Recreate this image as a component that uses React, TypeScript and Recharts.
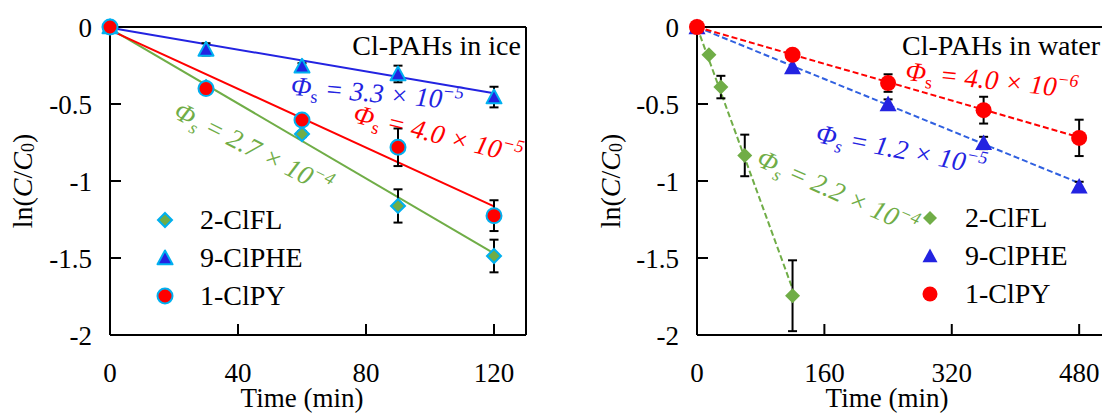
import {
  ComposedChart,
  Line,
  Scatter,
  XAxis,
  YAxis,
  ErrorBar,
  ReferenceDot,
  ReferenceLine,
  Legend,
} from "recharts";

const FONT = '"Liberation Serif", "Times New Roman", serif';
const GREEN = "#70ad47";
const BLUE = "#2323e1";
const RED = "#ff0000";
const CYAN = "#00b0f0";

// ---- Cl-PAHs in ice (min, ln(C/C0))
const iceTime = [0, 30, 60, 90, 120];
const iceClFL = [0, -0.39, -0.695, -1.162, -1.487];
const iceClFLErr = [0, 0.02, 0.02, 0.108, 0.106];
const iceClPHE = [0, -0.145, -0.255, -0.305, -0.455];
const iceClPHEErr = [0, 0.04, 0.02, 0.054, 0.067];
const iceClPY = [0, -0.4, -0.604, -0.781, -1.225];
const iceClPYErr = [0, 0.02, 0.02, 0.122, 0.1];
const iceFitTime = [0, 120];
const iceFitClFL = [-0.01, -1.47];
const iceFitClPHE = [-0.005, -0.43];
const iceFitClPY = [-0.02, -1.165];

// ---- Cl-PAHs in water
const waterTimeClFL = [0, 15, 30, 60, 120];
const waterClFL = [0, -0.18, -0.39, -0.834, -1.745];
const waterClFLErr = [0, 0, 0.073, 0.135, 0.23];
const waterTime = [0, 120, 240, 360, 480];
const waterClPHE = [0, -0.26, -0.5, -0.753, -1.035];
const waterClPHEErr = [0, 0, 0.03, 0.04, 0.03];
const waterClPY = [0, -0.18, -0.364, -0.54, -0.72];
const waterClPYErr = [0, 0, 0.057, 0.087, 0.118];
const waterFitClFLTime = [0, 120];
const waterFitClFL = [0, -1.7];
const waterFitTime = [0, 480];
const waterFitClPHE = [0, -1.013];
const waterFitClPY = [0, -0.716];

const yTicks = [0, -0.5, -1, -1.5, -2];
const iceTicks = [0, 40, 80, 120];
const waterTicks = [0, 160, 320, 480];
const seriesNames = ["2-ClFL", "9-ClPHE", "1-ClPY"];

const pts = (xs: number[], ys: number[], es?: number[]) =>
  xs.map((x, i) => ({ x, y: ys[i], err: es ? es[i] : 0 }));

// marker shapes
const diamond = (fill: string, stroke: string | null, r: number) => (p: any) =>
  (
    <polygon
      points={`${p.cx},${p.cy - r} ${p.cx + r},${p.cy} ${p.cx},${p.cy + r} ${p.cx - r},${p.cy}`}
      fill={fill}
      stroke={stroke ?? "none"}
      strokeWidth={2}
    />
  );
const triangle = (fill: string, stroke: string | null, w: number) => (p: any) =>
  (
    <polygon
      points={`${p.cx},${p.cy - w * 0.5} ${p.cx + w / 2},${p.cy + w * 0.42} ${p.cx - w / 2},${p.cy + w * 0.42}`}
      fill={fill}
      stroke={stroke ?? "none"}
      strokeWidth={2}
      strokeLinejoin="round"
    />
  );
const circle = (fill: string, stroke: string | null, r: number) => (p: any) =>
  <circle cx={p.cx} cy={p.cy} r={r} fill={fill} stroke={stroke ?? "none"} strokeWidth={2} />;

// rotated "Φs = a × 10^-b" annotation
const phi =
  (color: string, mant: string, exp: string, angle: number, italicS = true) =>
  (p: any) =>
    (
      <text
        x={p.cx}
        y={p.cy}
        transform={`rotate(${angle} ${p.cx} ${p.cy})`}
        fill={color}
        fontFamily={FONT}
        fontSize={27}
        fontStyle="italic"
      >
        Φ
        <tspan fontSize={18} dy={6} fontStyle={italicS ? "italic" : "normal"}>
          s
        </tspan>
        <tspan dy={-6}>{` = ${mant} × 10`}</tspan>
        <tspan fontSize={18} dy={-11}>
          {`−${exp}`}
        </tspan>
      </text>
    );

const title = (txt: string, anchor: "start" | "end") => (p: any) =>
  (
    <text x={p.cx} y={p.cy} textAnchor={anchor} fontFamily={FONT} fontSize={28} fill="#000">
      {txt}
    </text>
  );

const yLabel = (cx: number) => () =>
  (
    <text
      x={cx}
      y={181}
      transform={`rotate(-90 ${cx} 181)`}
      textAnchor="middle"
      dominantBaseline="central"
      fontFamily={FONT}
      fontSize={28}
      fill="#000"
    >
      ln(<tspan fontStyle="italic">C</tspan>/<tspan fontStyle="italic">C</tspan>
      <tspan fontSize={18} dy={6}>
        0
      </tspan>
      <tspan dy={-6}>)</tspan>
    </text>
  );

const xLabel = (cx: number) => () =>
  (
    <text x={cx} y={407} textAnchor="middle" fontFamily={FONT} fontSize={27} fill="#000">
      Time (min)
    </text>
  );

const legendBox = (stroke: string | null, textX: number) => () =>
  (
    <svg width={180} height={120}>
      {diamond(GREEN, stroke, 7)({ cx: 15, cy: 20 })}
      {triangle(BLUE, stroke, 15)({ cx: 15, cy: 58 })}
      {circle(RED, stroke, 7.5)({ cx: 15, cy: 96 })}
      {seriesNames.map((n, i) => (
        <text key={n} x={textX} y={29 + i * 38} fontFamily={FONT} fontSize={28} fill="#000">
          {n}
        </text>
      ))}
    </svg>
  );

const tickStyle = { fill: "#000", fontSize: 27, fontFamily: FONT };
const axisLine = { stroke: "#000", strokeWidth: 2 };
const tickLine = { stroke: "#000", strokeWidth: 2 };
const errProps = { direction: "y" as const, width: 4.5, stroke: "#000", strokeWidth: 2 };

const Frame = (xMax: number) => [
  <ReferenceLine key="top" y={0} stroke="#000" strokeWidth={2} ifOverflow="visible" />,
  <ReferenceLine key="right" x={xMax} stroke="#000" strokeWidth={2} ifOverflow="visible" />,
];

const IceChart = () => (
  <ComposedChart width={540} height={414} margin={{ top: 27, right: 14, bottom: 0, left: 0 }}>
    <XAxis
      dataKey="x"
      type="number"
      domain={[0, 130]}
      ticks={iceTicks}
      height={79}
      tickSize={-11}
      tickMargin={39}
      tick={tickStyle}
      axisLine={axisLine}
      tickLine={tickLine}
      label={{ content: xLabel(302) }}
    />
    <YAxis
      type="number"
      domain={[-2, 0]}
      ticks={yTicks}
      width={110}
      tickSize={-11}
      tickMargin={29}
      tick={tickStyle}
      tickFormatter={(v: number) => String(v)}
      axisLine={axisLine}
      tickLine={tickLine}
      label={{ content: yLabel(22) }}
    />
    {Frame(130)}
    <Line data={pts(iceFitTime, iceFitClFL)} dataKey="y" stroke={GREEN} strokeWidth={2} dot={false} legendType="none" isAnimationActive={false} />
    <Line data={pts(iceFitTime, iceFitClPHE)} dataKey="y" stroke={BLUE} strokeWidth={2} dot={false} legendType="none" isAnimationActive={false} />
    <Line data={pts(iceFitTime, iceFitClPY)} dataKey="y" stroke={RED} strokeWidth={2} dot={false} legendType="none" isAnimationActive={false} />
    <Scatter name={seriesNames[0]} data={pts(iceTime, iceClFL, iceClFLErr)} dataKey="y" shape={diamond(GREEN, CYAN, 7)} isAnimationActive={false}>
      <ErrorBar dataKey="err" {...errProps} />
    </Scatter>
    <Scatter name={seriesNames[1]} data={pts(iceTime, iceClPHE, iceClPHEErr)} dataKey="y" shape={triangle(BLUE, CYAN, 15)} isAnimationActive={false}>
      <ErrorBar dataKey="err" {...errProps} />
    </Scatter>
    <Scatter name={seriesNames[2]} data={pts(iceTime, iceClPY, iceClPYErr)} dataKey="y" shape={circle(RED, CYAN, 7.5)} isAnimationActive={false}>
      <ErrorBar dataKey="err" {...errProps} />
    </Scatter>
    <ReferenceDot x={128.4} y={-0.182} r={0} ifOverflow="visible" shape={title("Cl-PAHs in ice", "end")} />
    <ReferenceDot x={56.3} y={-0.44} r={0} ifOverflow="visible" shape={phi(BLUE, "3.3", "5", 5, false)} />
    <ReferenceDot x={75.6} y={-0.617} r={0} ifOverflow="visible" shape={phi(RED, "4.0", "5", 14, false)} />
    <ReferenceDot x={19.4} y={-0.584} r={0} ifOverflow="visible" shape={phi(GREEN, "2.7", "4", 27)} />
    <Legend
      layout="vertical"
      align="center"
      verticalAlign="middle"
      wrapperStyle={{ position: "absolute", left: 150, top: 200, width: 180, height: 120 }}
      content={legendBox(CYAN, 50)}
    />
  </ComposedChart>
);

const WaterChart = () => (
  <ComposedChart width={560} height={414} margin={{ top: 27, right: 9, bottom: 0, left: 0 }}>
    <XAxis
      dataKey="x"
      type="number"
      domain={[0, 520]}
      ticks={waterTicks}
      height={79}
      tickSize={-11}
      tickMargin={39}
      tick={tickStyle}
      axisLine={axisLine}
      tickLine={tickLine}
      label={{ content: xLabel(327) }}
    />
    <YAxis
      type="number"
      domain={[-2, 0]}
      ticks={yTicks}
      width={137}
      tickSize={-11}
      tickMargin={29}
      tick={tickStyle}
      tickFormatter={(v: number) => String(v)}
      axisLine={axisLine}
      tickLine={tickLine}
      label={{ content: yLabel(50) }}
    />
    {Frame(520)}
    <Line data={pts(waterFitClFLTime, waterFitClFL)} dataKey="y" stroke={GREEN} strokeWidth={2} strokeDasharray="6 3" dot={false} legendType="none" isAnimationActive={false} />
    <Line data={pts(waterFitTime, waterFitClPHE)} dataKey="y" stroke="#3060e0" strokeWidth={2} strokeDasharray="6 3" dot={false} legendType="none" isAnimationActive={false} />
    <Line data={pts(waterFitTime, waterFitClPY)} dataKey="y" stroke={RED} strokeWidth={2} strokeDasharray="6 3" dot={false} legendType="none" isAnimationActive={false} />
    <Scatter name={seriesNames[0]} data={pts(waterTimeClFL, waterClFL, waterClFLErr)} dataKey="y" shape={diamond(GREEN, null, 7.5)} isAnimationActive={false}>
      <ErrorBar dataKey="err" {...errProps} />
    </Scatter>
    <Scatter name={seriesNames[1]} data={pts(waterTime, waterClPHE, waterClPHEErr)} dataKey="y" shape={triangle(BLUE, null, 17)} isAnimationActive={false}>
      <ErrorBar dataKey="err" {...errProps} />
    </Scatter>
    <Scatter name={seriesNames[2]} data={pts(waterTime, waterClPY, waterClPYErr)} dataKey="y" shape={circle(RED, null, 8)} isAnimationActive={false}>
      <ErrorBar dataKey="err" {...errProps} />
    </Scatter>
    <ReferenceDot x={257.5} y={-0.18} r={0} ifOverflow="visible" shape={title("Cl-PAHs in water", "start")} />
    <ReferenceDot x={261} y={-0.344} r={0} ifOverflow="visible" shape={phi(RED, "4.0", "6", 6, false)} />
    <ReferenceDot x={148} y={-0.747} r={0} ifOverflow="visible" shape={phi(BLUE, "1.2", "5", 11)} />
    <ReferenceDot x={73} y={-0.896} r={0} ifOverflow="visible" shape={phi(GREEN, "2.2", "4", 24)} />
    <Legend
      layout="vertical"
      align="center"
      verticalAlign="middle"
      wrapperStyle={{ position: "absolute", left: 355, top: 198, width: 180, height: 120 }}
      content={legendBox(null, 50)}
    />
  </ComposedChart>
);

export default function App() {
  return (
    <div
      style={{
        position: "fixed",
        left: 0,
        top: 0,
        width: 1102,
        height: 414,
        overflow: "hidden",
        background: "#fff",
      }}
    >
      <div style={{ position: "absolute", left: 0, top: 0 }}>
        <IceChart />
      </div>
      <div style={{ position: "absolute", left: 560, top: 0 }}>
        <WaterChart />
      </div>
    </div>
  );
}
